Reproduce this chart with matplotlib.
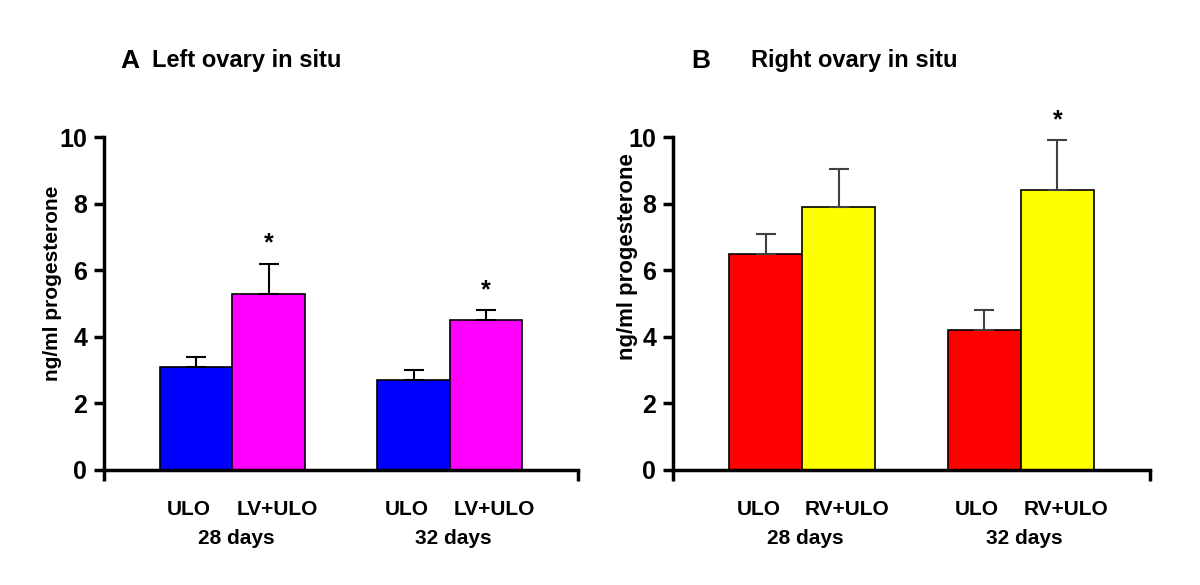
import matplotlib.pyplot as plt
import numpy as np

plt.rcParams['font.family'] = ['Liberation Sans', 'DejaVu Sans']
plt.rcParams['font.weight'] = 'bold'

# bar positions: two groups of two bars
pos = [0, 1, 3, 4]
groups = ['28 days', '32 days']
group_pos = [0.5, 3.5]

left_labels = ['ULO', 'LV+ULO', 'ULO', 'LV+ULO']
left_vals = [3.1, 5.3, 2.7, 4.5]
left_err = [0.3, 0.9, 0.3, 0.3]
left_colors = ['#0000ff', '#ff00ff', '#0000ff', '#ff00ff']
left_stars = [None, '*', None, '*']

right_labels = ['ULO', 'RV+ULO', 'ULO', 'RV+ULO']
right_vals = [6.5, 7.9, 4.2, 8.4]
right_err = [0.6, 1.15, 0.6, 1.5]
right_colors = ['#ff0000', '#ffff00', '#ff0000', '#ffff00']
right_stars = [None, None, None, '*']

fig = plt.figure(figsize=(12, 5.85), dpi=100)
ax1 = fig.add_axes([0.0867, 0.1966, 0.395, 0.569])
ax2 = fig.add_axes([0.5608, 0.1966, 0.3975, 0.569])

# small shift of the labels under each bar, as in the original
lab_shift = [-0.1, 0.12, -0.1, 0.12]


def panel(ax, vals, err, colors, labels, stars, ecol, ylab_xy, ylab_size):
    ax.bar(pos, vals, width=1.0, color=colors, edgecolor='black', linewidth=1.2)
    ax.errorbar(pos, vals, yerr=[np.zeros(len(vals)), err], fmt='none',
                ecolor=ecol, elinewidth=1.5, capsize=7, capthick=1.5)
    for p, v, e, s in zip(pos, vals, err, stars):
        if s:
            ax.text(p, v + e + 0.25, s, ha='center', va='bottom', fontsize=18, fontweight='bold')
    ax.set_xlim(-1.27, 5.27)
    ax.set_ylim(0, 10)
    ax.spines['top'].set_visible(False)
    ax.spines['right'].set_visible(False)
    ax.spines['left'].set_linewidth(2.5)
    ax.spines['bottom'].set_linewidth(2.5)
    ax.set_yticks([0, 2, 4, 6, 8, 10])
    ax.tick_params(axis='y', direction='out', length=7, width=2.5, labelsize=18, pad=5)
    ax.set_xticks([-1.27, 5.27])
    ax.set_xticklabels([])
    ax.tick_params(axis='x', direction='out', length=8, width=2.5)
    for lab in ax.get_yticklabels():
        lab.set_fontweight('bold')
    ax.set_ylabel('ng/ml progesterone', fontsize=ylab_size, fontweight='bold')
    ax.yaxis.set_label_coords(*ylab_xy)
    for p, l, sh in zip(pos, labels, lab_shift):
        ax.text(p + sh, -1.2, l, ha='center', va='center', fontsize=15, fontweight='bold', clip_on=False)
    for g, gp in zip(groups, group_pos):
        ax.text(gp + 0.05, -2.05, g, ha='center', va='center', fontsize=15, fontweight='bold', clip_on=False)


panel(ax1, left_vals, left_err, left_colors, left_labels, left_stars, 'black', (-0.089, 0.56), 15)
panel(ax2, right_vals, right_err, right_colors, right_labels, right_stars, '#404040', (-0.073, 0.64), 16)

fig.text(130 / 1200, 1 - 61 / 585, 'A', ha='center', va='center', fontsize=19, fontweight='bold')
fig.text(152 / 1200, 1 - 61 / 585, 'Left ovary in situ', ha='left', va='center', fontsize=17, fontweight='bold')
fig.text(701 / 1200, 1 - 61 / 585, 'B', ha='center', va='center', fontsize=19, fontweight='bold')
fig.text(751 / 1200, 1 - 61 / 585, 'Right ovary in situ', ha='left', va='center', fontsize=17, fontweight='bold')

fig.savefig('out.png', dpi=100)
